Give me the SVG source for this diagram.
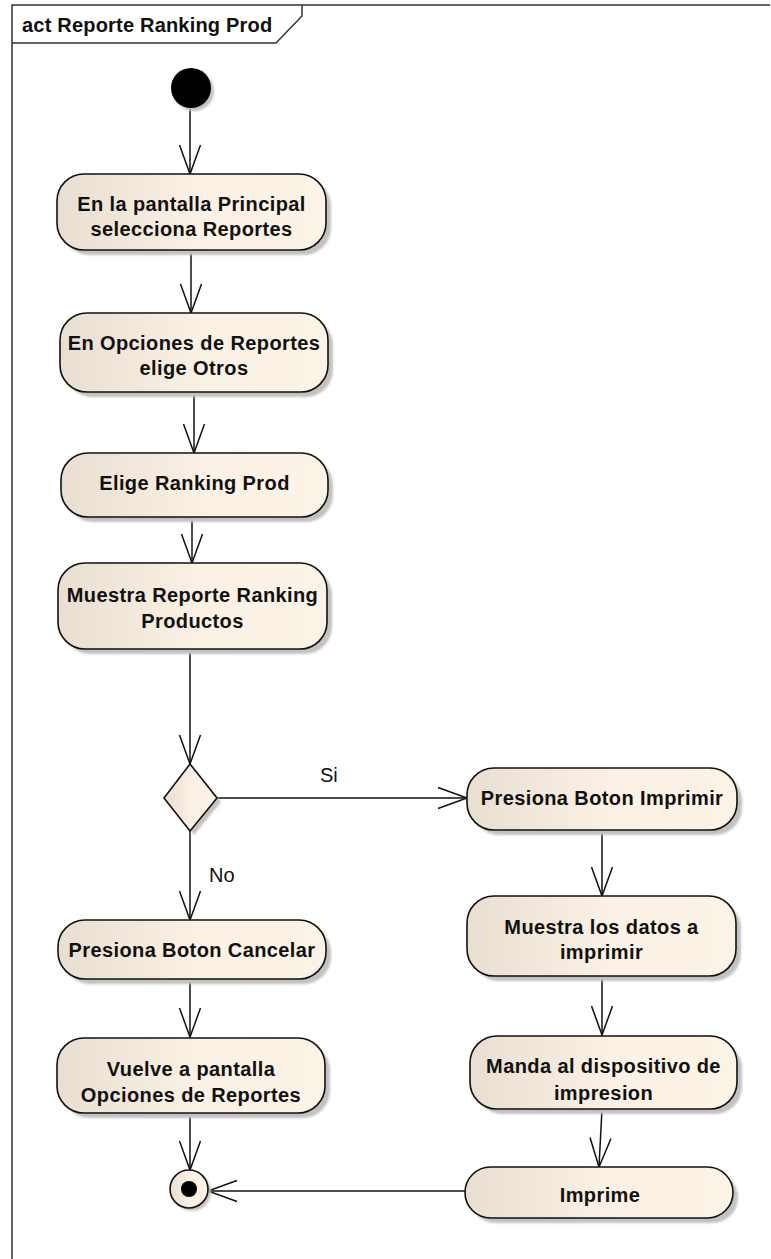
<svg xmlns="http://www.w3.org/2000/svg" width="771" height="1259" viewBox="0 0 771 1259">
  <style>
    .frame { fill: none; stroke: #333333; stroke-width: 1.5; }
    .title { font-family: "Liberation Sans", Arial, sans-serif; font-weight: bold; font-size: 20px; letter-spacing: 0.2px; fill: #111111; }
    .act { fill: url(#beige); stroke: #111111; stroke-width: 1.6; }
    .shadow { fill: #c2c2c2; }
    .lbl { font-family: "Liberation Sans", Arial, sans-serif; font-weight: bold; font-size: 20px; letter-spacing: 0.4px; fill: #111111; text-anchor: middle; }
    .guard { font-family: "Liberation Sans", Arial, sans-serif; font-size: 20px; fill: #111111; }
    .flow { fill: none; stroke: #111111; stroke-width: 1.5; marker-end: url(#open); }
  </style>
  <defs>
    <linearGradient id="beige" x1="0" y1="0" x2="1" y2="0">
      <stop offset="0" stop-color="#e8dfd2"/>
      <stop offset="0.55" stop-color="#fbf1e4"/>
      <stop offset="1" stop-color="#fcf3e7"/>
    </linearGradient>
    <filter id="soft" x="-10%" y="-10%" width="120%" height="130%">
      <feGaussianBlur stdDeviation="1"/>
    </filter>
    <marker id="open" markerUnits="userSpaceOnUse" viewBox="-32 -14 34 28" refX="0" refY="0" markerWidth="34" markerHeight="28" orient="auto" overflow="visible">
      <path d="M-29,-10.5 L0,0 L-29,10.5" fill="none" stroke="#111111" stroke-width="1.5"/>
    </marker>
  </defs>

  <rect width="771" height="1259" fill="#ffffff"/>

  <!-- diagram frame with name tab -->
  <g id="frame">
    <path class="frame" d="M770,5 L12,5 L12,1259"/>
    <path class="frame" d="M12,43 L276,43 L302,16 L302,5"/>
    <text class="title" x="22" y="32">act Reporte Ranking Prod</text>
  </g>

  <!-- control flows -->
  <g id="connectors">
    <line class="flow" x1="190" y1="108" x2="190" y2="174"/>
    <line class="flow" x1="191" y1="250" x2="191" y2="313"/>
    <line class="flow" x1="194" y1="392" x2="194" y2="453"/>
    <line class="flow" x1="192" y1="517" x2="192" y2="563"/>
    <line class="flow" x1="190" y1="649" x2="190" y2="764"/>
    <line class="flow" x1="217" y1="798" x2="467" y2="798"/>
    <text class="guard" x="320" y="782">Si</text>
    <line class="flow" x1="190" y1="831" x2="190" y2="920"/>
    <text class="guard" x="209" y="882">No</text>
    <line class="flow" x1="190" y1="979" x2="190" y2="1037"/>
    <line class="flow" x1="190" y1="1113" x2="190" y2="1170"/>
    <line class="flow" x1="602" y1="830" x2="602" y2="896"/>
    <line class="flow" x1="602" y1="976" x2="602" y2="1035"/>
    <line class="flow" x1="602" y1="1109" x2="599" y2="1167"/>
    <line class="flow" x1="465" y1="1191" x2="208" y2="1191"/>
  </g>

  <!-- initial node -->
  <g id="initial">
    <circle class="shadow" cx="194" cy="91" r="20" filter="url(#soft)"/>
    <circle cx="191" cy="88" r="20" fill="#000000"/>
  </g>

  <g id="n1">
    <rect class="shadow" x="62" y="179" width="269" height="76" rx="27" filter="url(#soft)"/>
    <rect class="act" x="57" y="174" width="269" height="76" rx="27"/>
    <text class="lbl" x="191.5" y="211">En la pantalla Principal</text>
    <text class="lbl" x="191.5" y="236">selecciona Reportes</text>
  </g>

  <g id="n2">
    <rect class="shadow" x="65" y="318" width="268" height="79" rx="27" filter="url(#soft)"/>
    <rect class="act" x="60" y="313" width="268" height="79" rx="27"/>
    <text class="lbl" x="194" y="350">En Opciones de Reportes</text>
    <text class="lbl" x="194" y="375">elige Otros</text>
  </g>

  <g id="n3">
    <rect class="shadow" x="66" y="458" width="267" height="64" rx="27" filter="url(#soft)"/>
    <rect class="act" x="61" y="453" width="267" height="64" rx="27"/>
    <text class="lbl" x="194.5" y="490">Elige Ranking Prod</text>
  </g>

  <g id="n4">
    <rect class="shadow" x="63" y="568" width="269" height="86" rx="27" filter="url(#soft)"/>
    <rect class="act" x="58" y="563" width="269" height="86" rx="27"/>
    <text class="lbl" x="192.5" y="602">Muestra Reporte Ranking</text>
    <text class="lbl" x="192.5" y="628">Productos</text>
  </g>

  <!-- decision -->
  <g id="decision">
    <polygon class="shadow" points="194,768 221,802 194,835 168,802" filter="url(#soft)"/>
    <polygon class="act" points="190,764 217,798 190,831 164,798"/>
  </g>

  <g id="n5">
    <rect class="shadow" x="63" y="925" width="268" height="59" rx="27" filter="url(#soft)"/>
    <rect class="act" x="58" y="920" width="268" height="59" rx="27"/>
    <text class="lbl" x="192" y="957">Presiona Boton Cancelar</text>
  </g>

  <g id="n6">
    <rect class="shadow" x="62" y="1043" width="268" height="75" rx="27" filter="url(#soft)"/>
    <rect class="act" x="57" y="1038" width="268" height="75" rx="27"/>
    <text class="lbl" x="191" y="1076">Vuelve a pantalla</text>
    <text class="lbl" x="191" y="1102">Opciones de Reportes</text>
  </g>

  <g id="r1">
    <rect class="shadow" x="472" y="773" width="270" height="62" rx="27" filter="url(#soft)"/>
    <rect class="act" x="467" y="768" width="270" height="62" rx="27"/>
    <text class="lbl" x="602" y="805">Presiona Boton Imprimir</text>
  </g>

  <g id="r2">
    <rect class="shadow" x="472" y="901" width="269" height="80" rx="27" filter="url(#soft)"/>
    <rect class="act" x="467" y="896" width="269" height="80" rx="27"/>
    <text class="lbl" x="601.5" y="934">Muestra los datos a</text>
    <text class="lbl" x="601.5" y="959">imprimir</text>
  </g>

  <g id="r3">
    <rect class="shadow" x="475" y="1041" width="267" height="73" rx="27" filter="url(#soft)"/>
    <rect class="act" x="470" y="1036" width="267" height="73" rx="27"/>
    <text class="lbl" x="603.5" y="1073">Manda al dispositivo de</text>
    <text class="lbl" x="603.5" y="1100">impresion</text>
  </g>

  <g id="r4">
    <rect class="shadow" x="470" y="1172" width="268" height="51" rx="25.5" filter="url(#soft)"/>
    <rect class="act" x="465" y="1167" width="268" height="51" rx="25.5"/>
    <text class="lbl" x="600" y="1202">Imprime</text>
  </g>

  <!-- activity final -->
  <g id="final">
    <circle class="shadow" cx="192" cy="1192" r="19" filter="url(#soft)"/>
    <circle class="act" cx="189" cy="1189" r="19"/>
    <circle cx="189" cy="1189" r="8" fill="#000000"/>
  </g>
</svg>
